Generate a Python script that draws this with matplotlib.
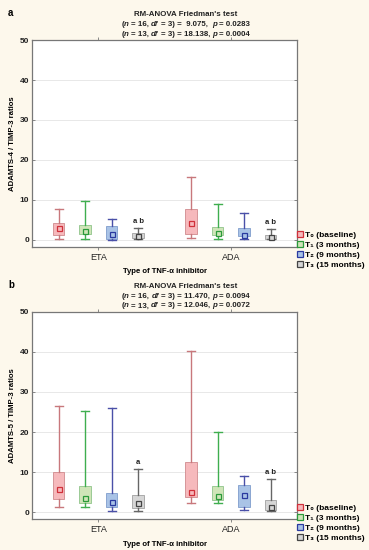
import matplotlib
matplotlib.use("Agg")
import matplotlib.pyplot as plt
from matplotlib.lines import Line2D

groups = ["ETA", "ADA"]
times = ["T₀ (baseline)", "T₁ (3 months)", "T₂ (9 months)", "T₃ (15 months)"]

# Panel a: ADAMTS-4 / TIMP-3 ratios, per group then per time point
a_med = [[3.0, 2.1, 1.4, 1.0], [4.1, 1.6, 1.1, 0.6]]
a_q1 = [[1.2, 1.4, 0.15, 0.5], [1.5, 1.2, 0.9, 0.2]]
a_q3 = [[4.25, 3.6, 3.5, 1.75], [7.8, 3.3, 3.0, 1.1]]
a_lo = [[0.2, 0.1, 0.05, 0.2], [0.4, 0.2, 0.2, 0.1]]
a_hi = [[7.8, 9.75, 5.2, 3.0], [15.75, 8.9, 6.75, 2.7]]
a_sig = [["", "", "", "a b"], ["", "", "", "a b"]]

# Panel b: ADAMTS-5 / TIMP-3 ratios
b_med = [[5.7, 3.6, 2.6, 2.2], [5.0, 4.0, 4.25, 1.25]]
b_q1 = [[3.25, 2.2, 1.3, 1.1], [3.8, 3.0, 1.3, 0.5]]
b_q3 = [[10.1, 6.6, 4.8, 4.4], [12.5, 6.6, 6.7, 3.0]]
b_lo = [[1.2, 1.2, 0.25, 0.25], [2.4, 2.2, 0.5, 0.25]]
b_hi = [[26.6, 25.25, 26.1, 10.75], [40.25, 20.1, 9.1, 8.25]]
b_sig = [["", "", "", "a"], ["", "", "", "a b"]]

# title lines as (text, italic) segments
titles_a = [[("RM-ANOVA Friedman's test", False)],
            [("(", False), ("n", True), (" = 16, ", False), ("df", True),
             (" = 3) =  9.075,  ", False), ("p", True), (" = 0.0283", False)],
            [("(", False), ("n", True), (" = 13, ", False), ("df", True),
             (" = 3) = 18.138, ", False), ("p", True), (" = 0.0004", False)]]
titles_b = [[("RM-ANOVA Friedman's test", False)],
            [("(", False), ("n", True), (" = 16, ", False), ("df", True),
             (" = 3) = 11.470, ", False), ("p", True), (" = 0.0094", False)],
            [("(", False), ("n", True), (" = 13, ", False), ("df", True),
             (" = 3) = 12.046, ", False), ("p", True), (" = 0.0072", False)]]

face = ["#f6b9bc", "#cfe5b8", "#a9c3e6", "#d6d6d6"]
edge = ["#d08a8e", "#8fc48a", "#7f9dcc", "#a0a0a0"]
wcol = ["#c8787c", "#3fae4f", "#4a50a8", "#666666"]
mcol = ["#d0303a", "#2a9a3a", "#2a3aa0", "#444444"]

bg = "#fdf8ec"
offsets = [-0.3, -0.1, 0.1, 0.3]
FAM = ["Liberation Sans", "DejaVu Sans"]

plt.rcParams["font.family"] = FAM

fig = plt.figure(figsize=(3.69, 5.5), dpi=100, facecolor=bg)
renderer = fig.canvas.get_renderer()
TSIZE = 5.7


def width_px(s, italic):
    t = fig.text(0, 0, s, fontsize=TSIZE, fontweight="bold",
                 fontstyle="italic" if italic else "normal")
    w = t.get_window_extent(renderer).width
    t.remove()
    return w


SPACE = width_px("x x", False) - width_px("xx", False)


def rich_line(xc, y, segs):
    parts = []
    total = 0.0
    for s, it in segs:
        lead = len(s) - len(s.lstrip(" "))
        trail = len(s) - len(s.rstrip(" "))
        core = s.strip(" ")
        w = width_px(core, it)
        parts.append((lead * SPACE, core, it, w, trail * SPACE))
        total += lead * SPACE + w + trail * SPACE
    W = fig.get_figwidth() * fig.dpi
    x = xc * W - total / 2
    for lead, core, it, w, trail in parts:
        x += lead
        fig.text(x / W, y, core, fontsize=TSIZE, fontweight="bold",
                 fontstyle="italic" if it else "normal", ha="left",
                 va="baseline", color="#222222")
        x += w + trail


def panel(rect, med, q1, q3, lo, hi, sig, titles, ylabel, letter, letter_y, legend_y, ylo):
    ax = fig.add_axes(rect)
    ax.set_facecolor("white")
    for g in range(len(groups)):
        for t in range(len(times)):
            x = g + offsets[t]
            st = [dict(med=med[g][t], q1=q1[g][t], q3=q3[g][t],
                       whislo=lo[g][t], whishi=hi[g][t], fliers=[])]
            ax.bxp(st, positions=[x], widths=0.085, patch_artist=True,
                   showfliers=False,
                   boxprops=dict(facecolor=face[t], edgecolor=edge[t], linewidth=0.6),
                   whiskerprops=dict(color=wcol[t], linewidth=1.0),
                   capprops=dict(color=wcol[t], linewidth=1.0),
                   medianprops=dict(linewidth=0),
                   capwidths=0.06, manage_ticks=False, zorder=3)
            ax.plot([x], [med[g][t]], marker="s", markersize=3.6,
                    markerfacecolor=face[t], markeredgecolor=mcol[t],
                    markeredgewidth=0.9, linestyle="none", zorder=4)
            if sig[g][t]:
                ax.text(x, hi[g][t] + 0.8, sig[g][t], ha="center", va="bottom",
                        fontsize=5.5, fontweight="bold", color="#222222")
    ax.set_xlim(-0.5, 1.5)
    ax.set_ylim(ylo, 50)
    ax.set_xticks(range(len(groups)))
    ax.set_xticklabels(groups, fontsize=6.5, color="#222222")
    ax.set_yticks([0, 10, 20, 30, 40, 50])
    ax.set_yticklabels(["0", "10", "20", "30", "40", "50"], fontsize=6,
                       fontweight="bold", color="#222222")
    ax.grid(axis="y", color="#e4e4e4", linewidth=0.6, zorder=0)
    ax.tick_params(axis="both", length=2, width=0.6, color="#777777", pad=2,
                   top=True, right=True, direction="in")
    ax.tick_params(axis="x", direction="out", length=2)
    for s in ax.spines.values():
        s.set_color("#777777")
        s.set_linewidth(0.9)
    ax.set_ylabel(ylabel, fontsize=5.6, fontweight="bold", labelpad=3)
    ax.set_xlabel("Type of TNF-α inhibitor", fontsize=5.6, fontweight="bold",
                  labelpad=5)
    top = rect[1] + rect[3]
    for i, segs in enumerate(titles):
        rich_line(0.503, top + 0.043 - i * 0.0175, segs)
    fig.text(0.022, letter_y, letter, fontsize=7, fontweight="bold", va="center")
    handles = [Line2D([], [], marker="s", linestyle="none", markersize=4.2,
                      markerfacecolor=face[t], markeredgecolor=mcol[t],
                      markeredgewidth=0.9) for t in range(len(times))]
    fig.legend(handles, times, loc="upper left", bbox_to_anchor=(0.803, legend_y),
               frameon=False, prop=dict(weight="bold", size=6, family=FAM),
               handletextpad=0.2, labelspacing=0.28, handlelength=0.9,
               borderaxespad=0, borderpad=0)
    return ax


panel([0.087, 0.551, 0.718, 0.376], a_med, a_q1, a_q3, a_lo, a_hi, a_sig,
      titles_a, "ADAMTS-4 / TIMP-3 ratios", "a", 0.976, 0.58, -1.8)
panel([0.087, 0.056, 0.718, 0.377], b_med, b_q1, b_q3, b_lo, b_hi, b_sig,
      titles_b, "ADAMTS-5 / TIMP-3 ratios", "b", 0.482, 0.0836, -1.75)

fig.savefig("out.png", dpi=100, facecolor=bg)
